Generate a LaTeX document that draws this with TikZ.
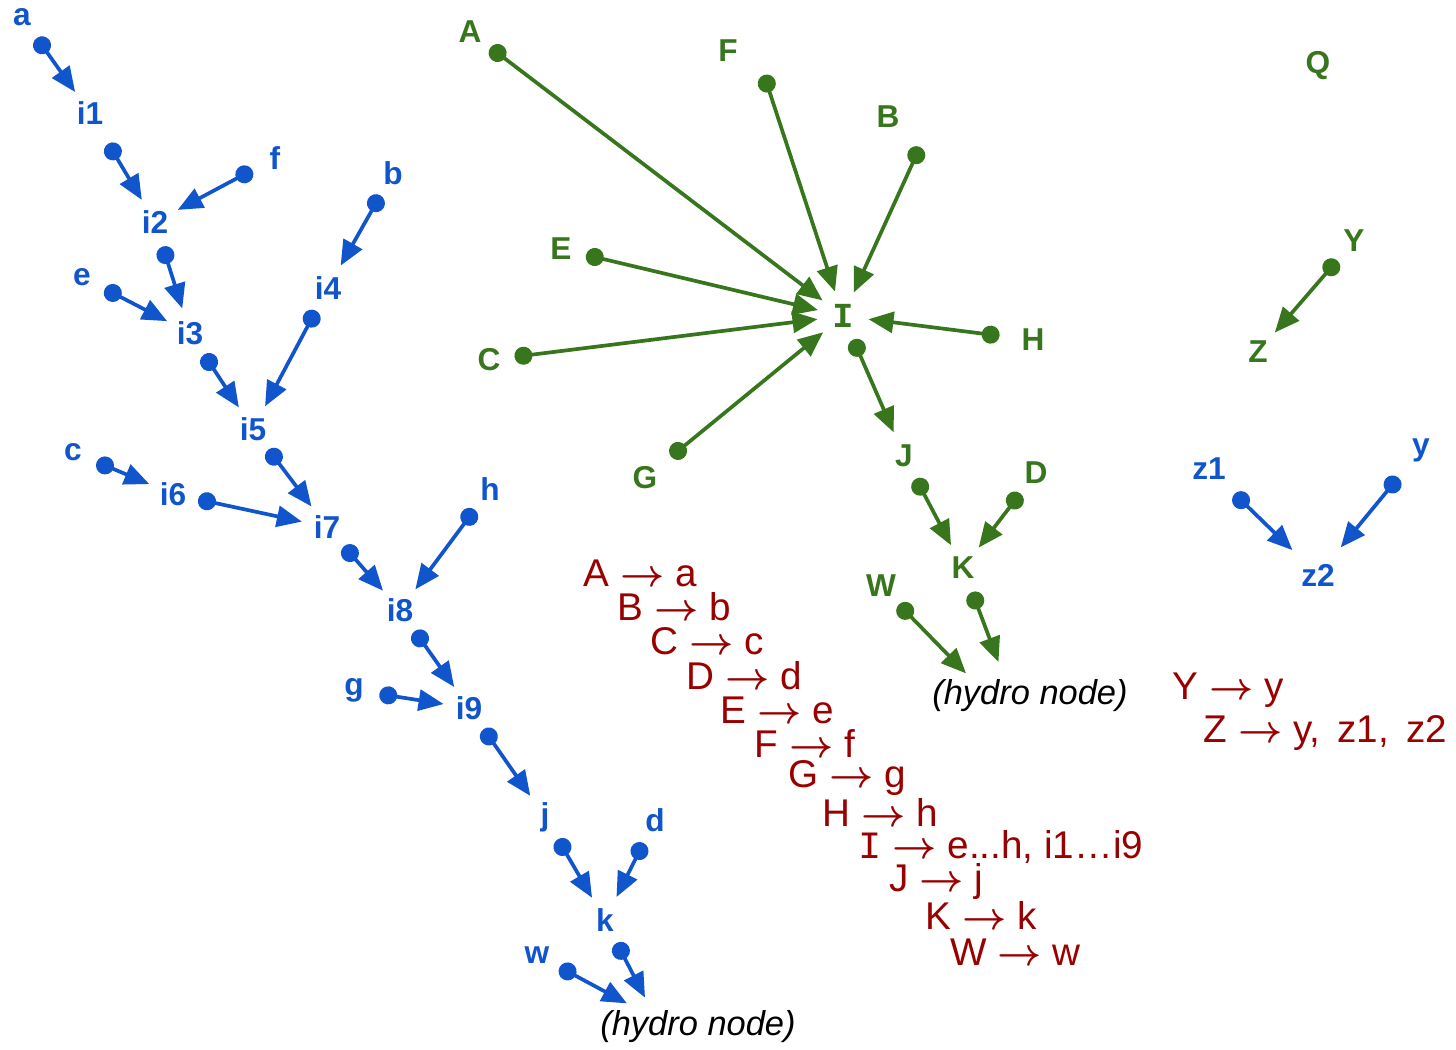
\documentclass[tikz,border=0pt]{standalone}
\usepackage{fontspec}
\setmainfont{Liberation Sans}
\setmonofont{Liberation Mono}
\usetikzlibrary{arrows.meta}
\definecolor{colB}{HTML}{1155CC}
\definecolor{colG}{HTML}{38761D}
\definecolor{colR}{HTML}{990000}
\newcommand\toR{{\boldmath$\rightarrow$}}
\begin{document}
\begin{tikzpicture}[x = .1mm, y = -.1mm, line join = round,
  labB/.style = {circle, inner sep = 0pt, minimum size = 5mm, text = colB, font = \fontsize{9}{10}\selectfont\bfseries},
  labG/.style = {labB, text = colG},
  edgeB/.style = {colB, line width = .37mm, {Circle[length = 1.8mm]}-{Triangle[length = 2.5mm, width = 2.1mm]}},
  edgeG/.style = {edgeB, colG},
  hydro/.style = {inner sep = 0pt, font = \fontsize{9.8}{11}\selectfont\itshape},
  map/.style = {anchor = west, inner sep = 0pt, text = colR, font = \fontsize{11}{12}\selectfont}]
\useasboundingbox (0,0) rectangle (1456,1050);
%Cây màu xanh dương
\node[labB] (a) at (22,17) {a};
\node[labB] (i1) at (90,113) {i1};
\node[labB] (i2) at (155,222) {i2};
\node[labB] (f) at (275,158) {f};
\node[labB] (i3) at (190,333) {i3};
\node[labB] (e) at (82,277) {e};
\node[labB] (i4) at (328,288) {i4};
\node[labB] (b) at (393,173) {b};
\node[labB] (i5) at (253,429) {i5};
\node[labB] (c) at (73,452) {c};
\node[labB] (i6) at (173,494) {i6};
\node[labB] (i7) at (327,527) {i7};
\node[labB] (h) at (490,489) {h};
\node[labB] (i8) at (400,610) {i8};
\node[labB] (g) at (354,690) {g};
\node[labB] (i9) at (469,708) {i9};
\node[labB] (j) at (545,817) {j};
\node[labB] (d) at (655,820) {d};
\node[labB] (k) at (605,920) {k};
\node[labB] (w) at (537,955) {w};
\node[hydro] (hydroB) at (698,1027) {(hydro node)};
\coordinate (sinkB) at ([shift = {(-42,-8)}]hydroB.center);
\draw[edgeB] (a) -- (i1);
\draw[edgeB, shorten < = 1mm] (i1) -- (i2);
\draw[edgeB] (f) -- (i2);
\draw[edgeB] (i2) -- (i3);
\draw[edgeB] (e) -- (i3);
\draw[edgeB] (i3) -- (i5);
\draw[edgeB] (b) -- (i4);
\draw[edgeB] (i4) -- (i5);
\draw[edgeB] (c) -- (i6);
\draw[edgeB] (i6) -- (i7);
\draw[edgeB] (i5) -- (i7);
\draw[edgeB] (i7) -- (i8);
\draw[edgeB] (h) -- (i8);
\draw[edgeB] (i8) -- (i9);
\draw[edgeB] (g) -- (i9);
\draw[edgeB] (i9) -- (j);
\draw[edgeB] (j) -- (k);
\draw[edgeB] (d) -- (k);
\draw[edgeB, shorten > = 2.4mm] (k) -- (sinkB);
\draw[edgeB, shorten > = 3.3mm] (w) -- (sinkB);
%Cây màu xanh lá
\node[labG] (A) at (470,32) {A};
\node[labG] (F) at (728,51) {F};
\node[labG] (B) at (888,117) {B};
\node[labG] (E) at (561,249) {E};
\node[labG, font = \fontsize{10}{11}\selectfont\bfseries\ttfamily] (I) at (843,316) {I};
\node[labG] (H) at (1033,340) {H};
\node[labG] (C) at (489,360) {C};
\node[labG] (G) at (645,478) {G};
\node[labG] (J) at (904,456) {J};
\node[labG] (D) at (1036,473) {D};
\node[labG] (K) at (963,568) {K};
\node[labG] (W) at (881,586) {W};
\node[hydro] (hydroG) at (1030,696) {(hydro node)};
\coordinate (sinkG) at ([shift = {(-4,39)}]hydroG.center);
\draw[edgeG] (A) -- (I);
\draw[edgeG] ([shift = {(36,24)}]F.center) -- (I);
\draw[edgeG] ([shift = {(32,30)}]B.center) -- (I);
\draw[edgeG] (E) -- (I);
\draw[edgeG] (C) -- (I);
\draw[edgeG, shorten < = .8mm] (G) -- (I);
\draw[edgeG, shorten < = .8mm] (H) -- (I);
\draw[edgeG] (I) -- (J);
\draw[edgeG] (J) -- (K);
\draw[edgeG] (D) -- (K);
\draw[edgeG, shorten > = 7.8mm] (K) -- (sinkG);
\draw[edgeG, shorten > = 8.6mm] (W) -- (sinkG);
%Nhóm bên phải
\node[labG] (Q) at (1318,66) {Q};
\node[labG] (Y) at (1354,241) {Y};
\node[labG] (Z) at (1258,352) {Z};
\draw[edgeG] (Y) -- (Z);
\node[labB, minimum size = 7mm] (z1) at (1209,469) {z1};
\node[labB, minimum size = 7mm] (y) at (1421,450) {y};
\node[labB, minimum size = 7mm] (z2) at (1318,575) {z2};
\draw[edgeB] (z1) -- (z2);
\draw[edgeB] (y) -- (z2);
%Bảng ánh xạ
\node[map] (mA) at (583,573) {A \toR{} a};
\node[map] (mB) at (617,607) {B \toR{} b};
\node[map] (mC) at (650,641) {C \toR{} c};
\node[map] (mD) at (686,676) {D \toR{} d};
\node[map] (mE) at (720,710) {E \toR{} e};
\node[map] (mF) at (754,744) {F \toR{} f};
\node[map] (mG) at (788,778) {G \toR{} g};
\node[map] (mH) at (822,812) {H \toR{} h};
\node[map] (mI) at (858,847) {\texttt{I} \toR{} e...h, i1…i9};
\node[map] (mJ) at (889,881) {J \toR{} j};
\node[map] (mK) at (925,915) {K \toR{} k};
\node[map] (mW) at (950,952) {W \toR{} w};
\node[map] (mY) at (1172,690) {Y \toR{} y};
\node[map] (mZ) at (1203,733) {Z \toR{} y,\ \,z1,\ \,z2};
\end{tikzpicture}
\end{document}
